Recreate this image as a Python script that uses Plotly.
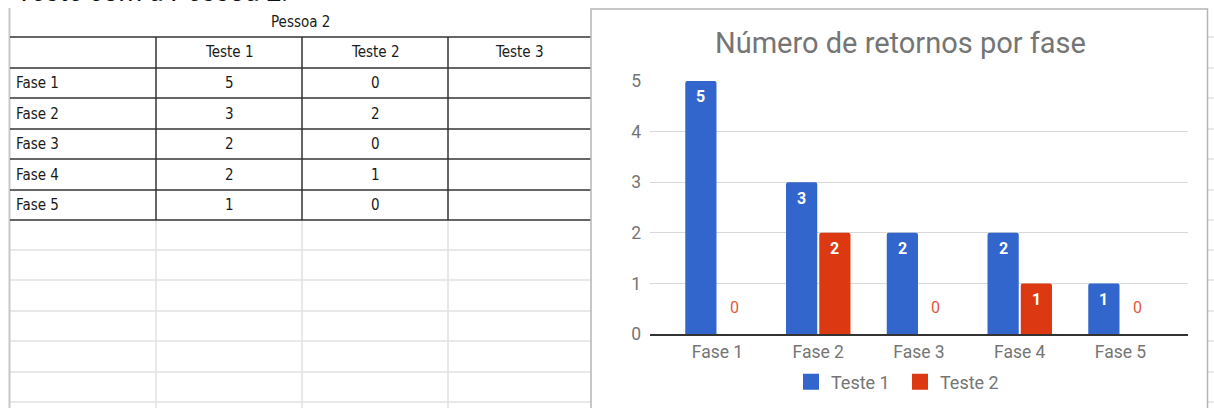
import plotly.graph_objects as go

# ---------------- data ----------------
phases = ["Fase 1", "Fase 2", "Fase 3", "Fase 4", "Fase 5"]
teste1 = [5, 3, 2, 2, 1]
teste2 = [0, 2, 0, 1, 0]
series_names = ["Teste 1", "Teste 2"]
table_columns = ["Teste 1", "Teste 2", "Teste 3"]
table_title = "Pessoa 2"
chart_title = "Número de retornos por fase"
page_heading = "Teste com a Pessoa 2:"
y_ticks = [0, 1, 2, 3, 4, 5]

# ---------------- style ----------------
W, H = 1214, 408
BLUE, RED = "#3366cc", "#dc3912"
RED_LABEL = "#e4583a"
GRAY_TXT = "#757575"
GRID = "#d9d9d9"
SHEET_GRID = "#e2e2e2"
DARK = "#333333"
TABLE_FONT = "Liberation Sans Narrow, DejaVu Sans Condensed, Arial Narrow, sans-serif"
CHART_FONT = "Roboto, Arial, sans-serif"

def fx(px):
    return px / W

def fy(py):
    return 1 - py / H

BAR_W = 0.31
OFFSETS = [-0.32, 0.01]
COLORS = [BLUE, RED]

fig = go.Figure()
for name, vals, col, off in zip(series_names, [teste1, teste2], COLORS, OFFSETS):
    fig.add_trace(go.Bar(
        x=list(range(len(phases))), y=vals, name=name, showlegend=False,
        marker=dict(color=col, line=dict(width=0), cornerradius=2),
        width=BAR_W, offset=off, hoverinfo="skip",
    ))
# legend entries (square swatches)
for name, col in zip(series_names, COLORS):
    fig.add_trace(go.Scatter(
        x=[None], y=[None], mode="markers", name=name,
        marker=dict(symbol="square", size=17, color=col), hoverinfo="skip",
    ))

annotations = []
# value labels
for vals, off in zip([teste1, teste2], OFFSETS):
    for i, v in enumerate(vals):
        xc = i + off + BAR_W / 2
        if v > 0:
            annotations.append(dict(x=xc, y=v, xref="x", yref="y", text=str(v),
                                    showarrow=False, yanchor="middle", yshift=-16,
                                    font=dict(family=CHART_FONT, size=16, color="white", weight="bold")))
        else:
            annotations.append(dict(x=xc, y=v, xref="x", yref="y", text=str(v),
                                    showarrow=False, yanchor="middle", yshift=27,
                                    font=dict(family=CHART_FONT, size=16, color=RED_LABEL)))

# chart title
annotations.append(dict(x=fx(900), y=fy(43), xref="paper", yref="paper", text=chart_title,
                        showarrow=False, xanchor="center", yanchor="middle",
                        font=dict(family=CHART_FONT, size=29, color=GRAY_TXT)))

# page heading (cut off at top)
annotations.append(dict(x=fx(14), y=fy(-8), xref="paper", yref="paper", text=page_heading,
                        showarrow=False, xanchor="left", yanchor="middle",
                        font=dict(family="Roboto, Arial, sans-serif", size=27, color="#111111")))

# ---------------- spreadsheet table ----------------
shapes = []
col_x = [10, 156, 302, 448, 591]
row_y = [37, 68, 98, 129, 159, 190, 220]
light_rows = [250, 280, 311, 341, 372, 402]

# light gridlines of the sheet
for x in col_x[1:4]:
    shapes.append(dict(type="line", xref="paper", yref="paper", x0=fx(x), x1=fx(x),
                       y0=fy(row_y[-1]), y1=fy(H + 2), line=dict(color=SHEET_GRID, width=1.5), layer="below"))
for y in light_rows:
    shapes.append(dict(type="line", xref="paper", yref="paper", x0=fx(10), x1=fx(591),
                       y0=fy(y), y1=fy(y), line=dict(color=SHEET_GRID, width=1.5), layer="below"))
# left gray border
shapes.append(dict(type="line", xref="paper", yref="paper", x0=fx(9.5), x1=fx(9.5),
                   y0=fy(8), y1=fy(H + 2), line=dict(color="#c8c8c8", width=2), layer="below"))
# dark table lines
for y in row_y:
    shapes.append(dict(type="line", xref="paper", yref="paper", x0=fx(10), x1=fx(591),
                       y0=fy(y), y1=fy(y), line=dict(color=DARK, width=1.5), layer="below"))
for x in col_x[1:4]:
    shapes.append(dict(type="line", xref="paper", yref="paper", x0=fx(x), x1=fx(x),
                       y0=fy(row_y[0]), y1=fy(row_y[-1]), line=dict(color=DARK, width=1.5), layer="below"))

# stubs of sheet gridlines right of the chart
for y in row_y + light_rows:
    shapes.append(dict(type="line", xref="paper", yref="paper", x0=fx(1208), x1=fx(1214),
                       y0=fy(y), y1=fy(y), line=dict(color=SHEET_GRID, width=1.5), layer="below"))

# chart box
shapes.append(dict(type="rect", xref="paper", yref="paper", x0=fx(591), x1=fx(1207.5),
                   y0=fy(H + 5), y1=fy(9), fillcolor="white",
                   line=dict(color="#b5b5b5", width=1.5), layer="below"))

tfont = dict(family=TABLE_FONT, size=15, color="#1a1a1a")
# merged header
annotations.append(dict(x=fx((10 + 591) / 2), y=fy(22), xref="paper", yref="paper", text=table_title,
                        showarrow=False, xanchor="center", yanchor="middle", font=tfont))
# column headers
for j, name in enumerate(table_columns):
    cx = (col_x[j + 1] + col_x[j + 2]) / 2
    annotations.append(dict(x=fx(cx), y=fy((row_y[0] + row_y[1]) / 2), xref="paper", yref="paper",
                            text=name, showarrow=False, xanchor="center", yanchor="middle", font=tfont))
# rows
for i, ph in enumerate(phases):
    cy = (row_y[i + 1] + row_y[i + 2]) / 2
    annotations.append(dict(x=fx(14), y=fy(cy), xref="paper", yref="paper", text=ph,
                            showarrow=False, xanchor="left", yanchor="middle", font=tfont))
    for j, vals in enumerate([teste1, teste2]):
        cx = (col_x[j + 1] + col_x[j + 2]) / 2
        annotations.append(dict(x=fx(cx), y=fy(cy), xref="paper", yref="paper", text=str(vals[i]),
                                showarrow=False, xanchor="center", yanchor="middle", font=tfont))

fig.update_layout(
    width=W, height=H, autosize=False,
    margin=dict(l=0, r=0, t=0, b=0, pad=0, autoexpand=False),
    paper_bgcolor="white", plot_bgcolor="rgba(0,0,0,0)",
    barmode="overlay",
    showlegend=True,
    legend=dict(orientation="h", x=fx(900), xanchor="center", y=fy(382), yanchor="middle",
                font=dict(family=CHART_FONT, size=18, color=GRAY_TXT), bgcolor="rgba(0,0,0,0)",
                itemclick=False, itemdoubleclick=False, itemsizing="trace", entrywidth=64),
    xaxis=dict(domain=[fx(650), fx(1188)], range=[-0.67, 4.67], automargin=False,
               tickmode="array", tickvals=list(range(len(phases))), ticktext=phases,
               showgrid=False, zeroline=False, showline=True, linecolor=DARK, linewidth=1.5,
               ticks="", ticklabelstandoff=1,
               tickfont=dict(family=CHART_FONT, size=17.5, color=GRAY_TXT), fixedrange=True),
    yaxis=dict(domain=[fy(334), fy(81)], range=[0, 5], tickmode="array", tickvals=y_ticks,
               automargin=False,
               showgrid=True, gridcolor=GRID, gridwidth=1, zeroline=False, showline=False,
               ticks="", ticklabelstandoff=8,
               tickfont=dict(family=CHART_FONT, size=17.5, color=GRAY_TXT), fixedrange=True),
    shapes=shapes,
    annotations=annotations,
)

fig.write_html("out.html", config={"displayModeBar": False})
